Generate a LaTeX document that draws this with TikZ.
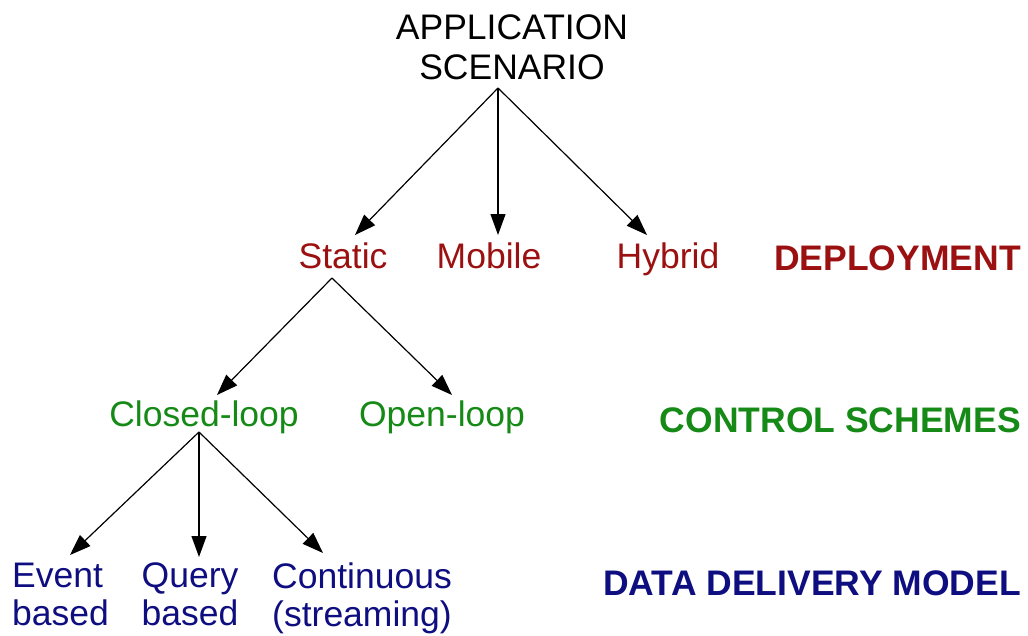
\documentclass[tikz,border=0pt]{standalone}
\usepackage{fontspec}
\setmainfont{Liberation Sans}
\usetikzlibrary{arrows.meta}
\definecolor{deployred}{RGB}{155,16,16}
\definecolor{ctrlgreen}{RGB}{22,138,22}
\definecolor{datablue}{RGB}{14,14,128}
\begin{document}
\begin{tikzpicture}[x=1pt,y=-1pt,
  lbl/.style={inner sep=0pt,font=\fontsize{35.5}{40}\selectfont},
  deploy/.style={lbl,text=deployred},
  ctrl/.style={lbl,text=ctrlgreen},
  data/.style={lbl,text=datablue,font=\fontsize{35.5}{38}\selectfont},
  heading/.style={font=\fontsize{35.5}{40}\selectfont\bfseries,inner sep=0pt,anchor=base east},
  arr/.style={line width=1.2pt,-{Triangle[length=21pt,width=15pt]}}]
\useasboundingbox (0,0) rectangle (1028,635);

% root
\node[lbl,align=center,anchor=south] (root) at (512,80) {APPLICATION\\SCENARIO};

% deployment level
\node[deploy,anchor=base] (static) at (343,268) {Static};
\node[deploy,anchor=base] (mobile) at (489,268) {Mobile};
\node[deploy,anchor=base] (hybrid) at (668,268) {Hybrid};
\node[heading,text=deployred] (hdeploy) at (1021,270) {DEPLOYMENT};

% control level
\node[ctrl,anchor=base] (closed) at (204,426) {Closed-loop};
\node[ctrl,anchor=base] (open) at (442,426) {Open-loop};
\node[heading,text=ctrlgreen] (hctrl) at (1021,432) {CONTROL SCHEMES};

% data delivery level
\node[data,align=left,anchor=north west] (event) at (12,563) {Event\\based};
\node[data,align=center,anchor=north] (query) at (190,563) {Query\\based};
\node[data,align=center,anchor=north] (cont) at (362,563) {Continuous\\(streaming)};
\node[heading,text=datablue] (hdata) at (1021,595) {DATA DELIVERY MODEL};

% tree edges
\draw[arr] ([xshift=-14pt,yshift=-8pt]root.south) -- ([xshift=12pt,yshift=33pt]static.base);
\draw[arr] ([xshift=-14pt,yshift=-8pt]root.south) -- ([xshift=9pt,yshift=33pt]mobile.base);
\draw[arr] ([xshift=-14pt,yshift=-8pt]root.south) -- ([xshift=-21pt,yshift=33pt]hybrid.base);

\draw[arr] ([xshift=-11pt,yshift=-10pt]static.base) -- ([xshift=13pt,yshift=31pt]closed.base);
\draw[arr] ([xshift=-11pt,yshift=-10pt]static.base) -- ([xshift=10pt,yshift=31pt]open.base);

\draw[arr] ([xshift=-5pt,yshift=-6pt]closed.base) -- ([xshift=58pt,yshift=8pt]event.north west);
\draw[arr] ([xshift=-5pt,yshift=-6pt]closed.base) -- ([xshift=9pt,yshift=6pt]query.north);
\draw[arr] ([xshift=-5pt,yshift=-6pt]closed.base) -- ([xshift=-39pt,yshift=10pt]cont.north);
\end{tikzpicture}
\end{document}
